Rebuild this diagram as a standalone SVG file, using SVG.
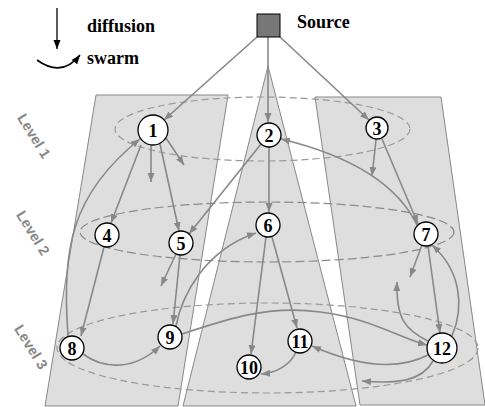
<svg xmlns="http://www.w3.org/2000/svg" width="485" height="407" viewBox="0 0 485 407">
<style>
.panel{fill:#dedede;stroke:#888;stroke-width:1}
.ell{fill:none;stroke:#999;stroke-width:1.2;stroke-dasharray:7 4}
.c{fill:none;stroke:#888;stroke-width:1.6;marker-end:url(#ah)}
.node circle{fill:#fff;stroke:#000;stroke-width:1.3}
.node text{font-family:"Liberation Serif",serif;font-weight:bold;font-size:18px;text-anchor:middle;dominant-baseline:central}
.lbl{font-family:"Liberation Serif",serif;font-weight:bold;font-size:18px}
.lvl{font-family:"Liberation Sans",Arial,sans-serif;font-weight:bold;font-size:14.5px;fill:#888;text-anchor:middle;dominant-baseline:central}
</style>
<defs>
<marker id="ah" markerUnits="userSpaceOnUse" markerWidth="10" markerHeight="8" refX="9" refY="3.5" orient="auto">
<path d="M0,0 L9,3.5 L0,7 z" fill="#888"/>
</marker>
<marker id="ahk" markerUnits="userSpaceOnUse" markerWidth="10" markerHeight="8" refX="9" refY="3.5" orient="auto">
<path d="M0,0 L9,3.5 L0,7 z" fill="#000"/>
</marker>
</defs>
<g id="panels">
<polygon class="panel" points="96,95 228,95 178,406 45,406"/>
<polygon class="panel" points="268,66 356,406 183,406"/>
<polygon class="panel" points="315,97 441,97 485,405 360,405"/>
</g>
<g id="levels">
<ellipse class="ell" cx="262.5" cy="129" rx="147.5" ry="32"/>
<ellipse class="ell" cx="267" cy="232" rx="187" ry="30" style="stroke-dasharray:9 4;stroke:#8a8a8a"/>
<ellipse class="ell" cx="267.5" cy="348" rx="210.5" ry="45"/>
<text class="lvl" transform="rotate(58 34 136)" x="34" y="136">Level 1</text>
<text class="lvl" transform="rotate(58 33 233)" x="33" y="233">Level 2</text>
<text class="lvl" transform="rotate(58 31 347)" x="31" y="347">Level 3</text>
</g>
<g id="legend">
<line x1="57" y1="8" x2="57" y2="49" stroke="#000" stroke-width="1.3" marker-end="url(#ahk)"/>
<path d="M37,60 Q62,78 80,55" fill="none" stroke="#000" stroke-width="1.6" marker-end="url(#ahk)"/>
<text class="lbl" x="87" y="32">diffusion</text>
<text class="lbl" x="87" y="64">swarm</text>
</g>
<g id="connectors">
<path class="c" d="M257,37 L164,120"/>
<path class="c" d="M268,37 L268,122"/>
<path class="c" d="M280,37 L369,120"/>
<path class="c" d="M151,145 L151,182"/>
<path class="c" d="M166,138 L184,165"/>
<path class="c" d="M141,145 L111,223"/>
<path class="c" d="M160,144 L179,231"/>
<path class="c" d="M68,336 C62,250 70,195 140,139"/>
<path class="c" d="M261,144 L189,234"/>
<path class="c" d="M269,147 L269,212"/>
<path class="c" d="M417,225 C400,190 360,158 281,139"/>
<path class="c" d="M376,140 L372,176"/>
<path class="c" d="M382,139 L418,224"/>
<path class="c" d="M266,237 L251,354"/>
<path class="c" d="M272,237 L297,328"/>
<path class="c" d="M176,326 C182,295 205,250 256,233"/>
<path class="c" d="M104,247 L81,336"/>
<path class="c" d="M176,254 L161,286"/>
<path class="c" d="M180,255 L173,324"/>
<path class="c" d="M83,354 C105,370 135,370 160,346"/>
<path class="c" d="M182,334 C230,318 270,305 320,312 C370,318 400,338 427,345"/>
<path class="c" d="M428,355 C395,372 355,365 312,346"/>
<path class="c" d="M296,352 C290,366 275,373 261,374"/>
<path class="c" d="M433,361 C422,381 398,384 362,381"/>
<path class="c" d="M428,246 L440,333"/>
<path class="c" d="M452,336 C465,305 460,270 432,245"/>
<path class="c" d="M422,245 L410,277"/>
<path class="c" d="M428,341 C405,330 396,318 397,282"/>
</g>
<g id="source">
<rect x="257" y="14" width="23" height="23" fill="#777" stroke="#000" stroke-width="1"/>
<text class="lbl" x="297" y="28">Source</text>
</g>
<g id="n1" class="node"><circle cx="153" cy="130" r="15"/><text x="153" y="131">1</text></g>
<g id="n2" class="node"><circle cx="269" cy="135" r="12"/><text x="269" y="136">2</text></g>
<g id="n3" class="node"><circle cx="377" cy="128" r="11"/><text x="377" y="129">3</text></g>
<g id="n4" class="node"><circle cx="107" cy="235" r="12"/><text x="107" y="236">4</text></g>
<g id="n5" class="node"><circle cx="181" cy="243" r="12"/><text x="181" y="244">5</text></g>
<g id="n6" class="node"><circle cx="268" cy="225" r="12"/><text x="268" y="226">6</text></g>
<g id="n7" class="node"><circle cx="426" cy="234" r="12"/><text x="426" y="235">7</text></g>
<g id="n8" class="node"><circle cx="72" cy="348" r="12"/><text x="72" y="349">8</text></g>
<g id="n9" class="node"><circle cx="170" cy="337" r="12"/><text x="170" y="338">9</text></g>
<g id="n10" class="node"><circle cx="249" cy="367" r="12"/><text x="249" y="368">10</text></g>
<g id="n11" class="node"><circle cx="300" cy="341" r="12"/><text x="300" y="342">11</text></g>
<g id="n12" class="node"><circle cx="442" cy="348" r="15"/><text x="442" y="349">12</text></g>
</svg>
